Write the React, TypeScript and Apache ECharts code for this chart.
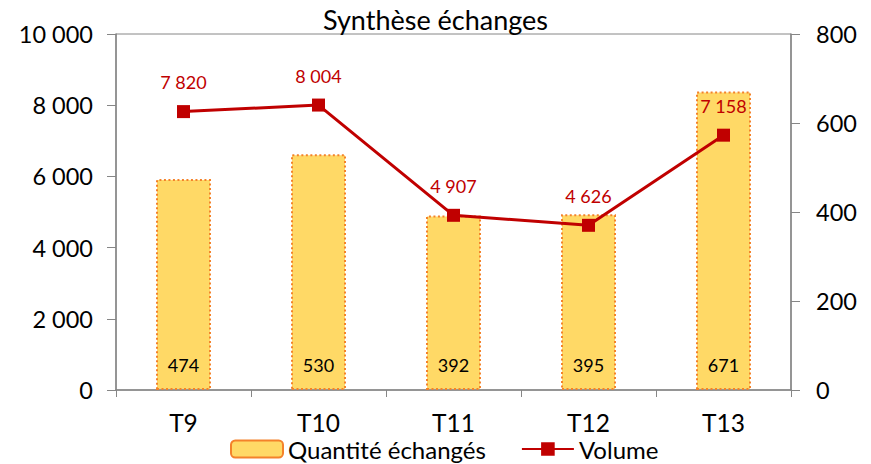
import React, { useEffect, useRef } from "react";
import * as echarts from "echarts";

const categories = ["T9", "T10", "T11", "T12", "T13"];
const quantite = [474, 530, 392, 395, 671];
const volume = [7820, 8004, 4907, 4626, 7158];

const fmt = (v: number) => String(Math.round(v)).replace(/\B(?=(\d{3})+(?!\d))/g, " ");
const FONT = "Lato";

export default function App() {
  const ref = useRef<HTMLDivElement>(null);
  useEffect(() => {
    const chart = echarts.init(ref.current!, null, { renderer: "svg" });
    chart.setOption({
      animation: false,
      backgroundColor: "#ffffff",
      textStyle: { fontFamily: FONT },
      title: {
        text: "Synthèse échanges",
        left: "center",
        top: 1,
        textStyle: { fontFamily: FONT, fontSize: 27, fontWeight: "normal", color: "#000" },
      },
      grid: {
        left: 116,
        right: 80,
        top: 34,
        bottom: 74,
        show: true,
        borderColor: "#868686",
        borderWidth: 1,
      },
      legend: {
        top: 437,
        left: 230,
        padding: 0,
        itemGap: 35,
        itemWidth: 52,
        itemHeight: 17,
        textStyle: { fontFamily: FONT, fontSize: 24, color: "#000", lineHeight: 24 },
        data: ["Quantité échangés", "Volume"],
      },
      xAxis: {
        type: "category",
        data: categories,
        boundaryGap: true,
        axisLine: { lineStyle: { color: "#868686", width: 1.5 } },
        axisTick: { show: true, length: 7, lineStyle: { color: "#868686" } },
        axisLabel: { fontFamily: FONT, fontSize: 24.5, lineHeight: 24, color: "#000", margin: 20 },
      },
      yAxis: [
        {
          type: "value",
          min: 0,
          max: 10000,
          interval: 2000,
          splitLine: { show: false },
          axisLine: { show: true, lineStyle: { color: "#868686", width: 1.5 } },
          axisTick: { show: true, length: 9, lineStyle: { color: "#868686" } },
          axisLabel: {
            fontFamily: FONT,
            fontSize: 23.5,
            color: "#000",
            margin: 23,
            formatter: (v: number) => fmt(v),
          },
        },
        {
          type: "value",
          min: 0,
          max: 800,
          interval: 200,
          position: "right",
          splitLine: { show: false },
          axisLine: { show: true, lineStyle: { color: "#868686", width: 1.5 } },
          axisTick: { show: true, length: 9, lineStyle: { color: "#868686" } },
          axisLabel: { fontFamily: FONT, fontSize: 23.5, color: "#000", margin: 25 },
        },
      ],
      series: [
        {
          name: "Quantité échangés",
          type: "bar",
          yAxisIndex: 1,
          data: quantite,
          barWidth: 55,
          itemStyle: {
            color: "#FFD966",
            borderColor: "#F4822A",
            borderWidth: 2,
            borderType: [2, 2.5],
          },
          label: {
            show: true,
            position: "insideBottom",
            distance: 16,
            fontFamily: FONT,
            fontSize: 18,
            color: "#000",
          },
          z: 1,
        },
        {
          name: "Volume",
          type: "line",
          yAxisIndex: 0,
          data: volume,
          symbol: "rect",
          symbolSize: 13,
          lineStyle: { color: "#C00000", width: 3 },
          itemStyle: { color: "#C00000" },
          label: {
            show: true,
            position: "top",
            distance: 14,
            fontFamily: FONT,
            fontSize: 18,
            color: "#C00000",
            formatter: (p: any) => fmt(p.value),
          },
          z: 3,
        },
      ],
    });
    return () => chart.dispose();
  }, []);
  return (
    <div
      ref={ref}
      style={{ position: "fixed", left: 0, top: 0, width: 871, height: 464 }}
    />
  );
}
